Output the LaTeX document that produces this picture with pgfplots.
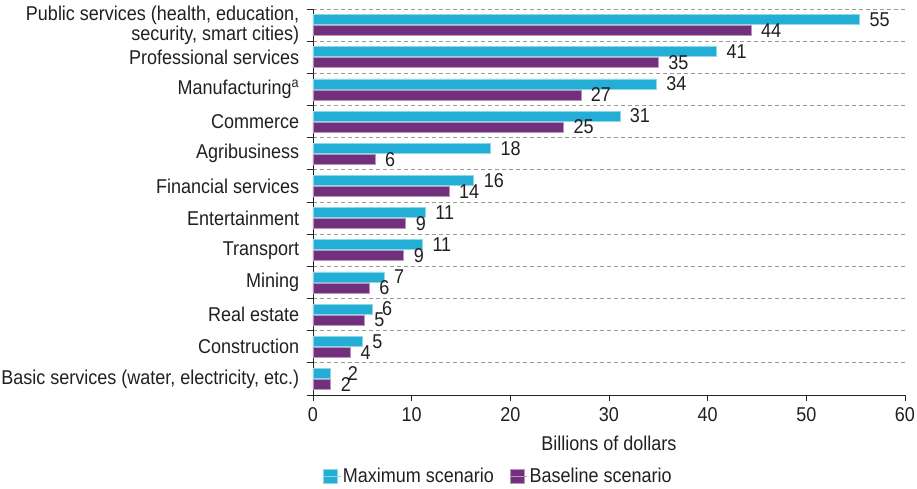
\documentclass[border=0pt]{standalone}
\usepackage{fontspec}
\setmainfont{Liberation Sans}[FakeStretch=0.9]
\usepackage{pgfplots}
\usepackage{pgfplotstable}
\pgfplotsset{compat=1.18}

\definecolor{maxc}{HTML}{22AED5}
\definecolor{basec}{HTML}{722F7B}
\definecolor{txt}{HTML}{231F20}

% idx 11 = top row
\pgfplotstableread{
idx  max   maxl        base   basel
11   55.4  55          44.4   44
10   40.9  41          35.0   35
9    34.8  34          27.15  27
8    31.1  31          25.4   25
7    18.0  18          6.3    6
6    16.3  16          13.8   14
5    11.4  11          9.4    9
4    11.1  11          9.2    9
3    7.2   7           5.7    6
2    6.0   6           5.2    5
1    5.0   5           3.8    4
0    1.8   \kern7bp2   1.8    2
}\data

\begin{document}
\fontsize{20bp}{17bp}\selectfont
\begin{tikzpicture}
\useasboundingbox (-313bp,-94bp) rectangle (604bp,395bp);
\begin{axis}[
    at={(0,0)}, anchor=south west,
    scale only axis,
    width=592bp, height=386bp,
    xmin=0, xmax=60,
    ymin=-0.5, ymax=11.5,
    xbar, bar width=10bp, bar shift=0pt,
    axis x line*=bottom, axis y line*=left,
    axis line style={draw=black!85, line width=0.8bp},
    tick align=outside,
    major tick length=6bp,
    tick style={draw=black!85, line width=0.8bp},
    xtick={0,10,...,60},
    ytick={-0.5,0.5,...,11.5},
    yticklabels={},
    ymajorgrids,
    major grid style={draw=black!40, dash pattern=on 4bp off 3bp, line width=0.8bp},
    extra y ticks={0,...,11},
    extra y tick labels={
      {Basic services (water, electricity, etc.)},
      Construction, Real estate, Mining, Transport, Entertainment,
      Financial services, Agribusiness, Commerce,
      Manufacturing\textsuperscript{a}, Professional services,
      {Public services (health, education,\\security, smart cities)}},
    extra y tick style={grid=none, tick style={draw=none}},
    yticklabel style={align=right, text=txt, xshift=-1bp},
    xticklabel style={text=txt},
    /pgf/number format/assume math mode=true,
    xlabel={Billions of dollars},
    xlabel style={text=txt},
    nodes near coords,
    point meta=explicit symbolic,
    nodes near coords style={anchor=west, xshift=3bp, inner ysep=0bp, text=txt},
    legend columns=2,
    legend style={at={(0.012,-0.212)}, anchor=west, draw=none, fill=none,
      text=txt, /tikz/every even column/.append style={column sep=14bp}},
    legend image code/.code={\fill[#1] (0bp,-7bp) rectangle (14bp,7bp);
      \path (0bp,0bp) -- (17bp,0bp);},
]
\addplot[fill=maxc, draw=maxc!50!white, line width=0.7bp]
  table[x=max, y expr=\thisrow{idx}+0.171, meta=maxl] {\data};
\addlegendentry{Maximum scenario}
\addplot[fill=basec, draw=basec!50!white, line width=0.7bp]
  table[x=base, y expr=\thisrow{idx}-0.171, meta=basel] {\data};
\addlegendentry{Baseline scenario}
\end{axis}
\end{tikzpicture}
\end{document}
